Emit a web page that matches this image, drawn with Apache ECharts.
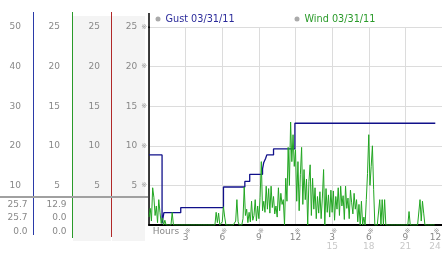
<!DOCTYPE html>
<html><head><meta charset="utf-8">
<script src="https://cdn.jsdelivr.net/npm/echarts@6/dist/echarts.min.js"></script>
<style>html,body{margin:0;padding:0;background:#fff}#c{width:442px;height:253px}</style>
</head><body><div id="c"></div>
<script>
// ---- data ----
const gustName = 'Gust 03/31/11';
const windName = 'Wind 03/31/11';
const gustTimes  = [0, 1.07, 1.22, 2.6, 6.1, 7.85, 8.25, 9.3, 9.4, 9.55, 9.65, 10.2, 11.95, 23.45];
const gustValues = [8.85, 0.2, 1.55, 2.2, 4.8, 5.5, 6.4, 7.1, 7.9, 8.4, 8.85, 9.6, 12.85, 12.85];
const windStepHours = 0.1;
const windValues = [
  1.0, 2.1, 0.5, 4.7, 3.5, 1.2, 2.4, 0.3, 3.2, 1.6,
  0.2, 0.9, 0.0, 0.6, 0.0, 0.0, 0.0, 0.0, 0.0, 1.6,
  0, 0, 0, 0, 0, 0, 0, 0, 0, 0,
  0, 0, 0, 0, 0, 0, 0, 0, 0, 0,
  0, 0, 0, 0, 0, 0, 0, 0, 0, 0,
  0, 0, 0, 0, 0, 1.6, 0.3, 1.5, 0, 0,
  0.4, 2.3, 1.0, 0, 0, 0, 0, 0, 0, 0,
  0, 0.5, 3.2, 0.4, 0, 0, 0, 0.8, 4.8, 1.2,
  2.0, 0.3, 1.6, 0.4, 3.0, 0.6, 1.2, 3.2, 0.5, 2.4,
  0.8, 3.5, 8.0, 1.8, 3.0, 1.6, 4.9, 2.0, 4.6, 1.5,
  4.9, 2.2, 3.6, 1.4, 2.4, 1.0, 4.7, 1.8, 4.0, 2.6,
  3.2, 0.0, 5.9, 3.0, 9.8, 5.0, 13.0, 8.0, 11.4, 7.4,
  9.5, 3.0, 8.0, 1.8, 6.4, 9.8, 2.6, 7.0, 3.2, 5.8,
  0.0, 5.5, 7.6, 1.2, 5.9, 2.0, 4.7, 0.8, 3.6, 1.5,
  4.2, 0.8, 3.4, 7.0, 0.0, 4.6, 1.6, 3.8, 1.0, 4.4,
  1.6, 4.3, 0.6, 3.6, 2.0, 4.7, 1.2, 4.9, 2.4, 3.7,
  0.7, 4.9, 2.1, 3.4, 0.8, 4.4, 2.8, 1.4, 4.0, 2.0,
  3.2, 0.4, 2.6, 0.0, 3.0, 0.0, 1.0, 0.0, 3.2, 6.5,
  11.4, 5.0, 7.4, 10.0, 4.5, 0.0, 0.0, 0.0, 0.0, 3.2,
  0.0, 3.2, 0.0, 3.2, 0, 0, 0, 0, 0, 0,
  0, 0, 0, 0, 0, 0, 0, 0, 0, 0,
  0, 0, 0, 1.7, 0, 0, 0, 0, 0, 0,
  0, 0, 3.2, 0.5, 3.0, 1.5, 0, 0, 0, 0,
  0, 0, 0, 0, 0
];
const hourLabels12 = ['Hours', '3', '6', '9', '12', '3', '6', '9', '12'];
const hourLabels24 = ['', '', '', '', '', '15', '18', '21', '24'];
const readoutCol1 = ['25.7', '25.7', '0.0'];
const readoutCol2 = ['12.9', '0.0', '0.0'];
const tickMark = '※';

// ---- styles / layout ----
const FONT = 'DejaVu Sans';
const labelGray = '#888';
const markGray = '#999';
const readoutY = [204.5, 218, 231.5];

const chart = echarts.init(document.getElementById('c'), null, {renderer: 'canvas'});

function colAxis(max, interval, offset, withMark) {
  return {
    type: 'value', min: 0, max: max, interval: interval, position: 'left', offset: offset,
    axisLine: {show: false}, axisTick: {show: false}, splitLine: {show: false},
    axisLabel: {
      margin: 0, color: labelGray, fontSize: 9, fontFamily: FONT,
      formatter: function (v) {
        if (v === 0) return '';
        return withMark ? '{n|' + v + '}{m|' + tickMark + '}' : String(v);
      },
      rich: {
        n: {fontSize: 9, fontFamily: FONT, color: labelGray},
        m: {fontSize: 7, fontFamily: FONT, color: markGray, padding: [0, 0, 0, 4]}
      }
    }
  };
}

const graphics = [
  {type: 'rect', z: -10, shape: {x: 73, y: 16, width: 38, height: 225}, style: {fill: '#f4f4f4'}},
  {type: 'rect', z: -10, shape: {x: 112, y: 16, width: 33, height: 225}, style: {fill: '#f4f4f4'}},
  {type: 'line', z: 1, shape: {x1: 33.5, y1: 12, x2: 33.5, y2: 235}, style: {stroke: '#2a3aa8', lineWidth: 1}},
  {type: 'line', z: 1, shape: {x1: 72.5, y1: 12, x2: 72.5, y2: 238}, style: {stroke: '#2a9a2a', lineWidth: 1}},
  {type: 'line', z: 1, shape: {x1: 111.5, y1: 12, x2: 111.5, y2: 237}, style: {stroke: '#b02828', lineWidth: 1}},
  {type: 'line', z: 2, shape: {x1: 0, y1: 197, x2: 148, y2: 197}, style: {stroke: '#a0a0a0', lineWidth: 2}},
  {type: 'line', z: 5, shape: {x1: 149, y1: 13, x2: 149, y2: 28}, style: {stroke: '#000', lineWidth: 1.5}}
];
readoutCol1.forEach(function (t, i) {
  graphics.push({type: 'text', z: 3, style: {text: t, x: 27.5, y: readoutY[i], align: 'right', verticalAlign: 'middle', fill: labelGray, font: '9px "' + FONT + '"'}});
});
readoutCol2.forEach(function (t, i) {
  graphics.push({type: 'text', z: 3, style: {text: t, x: 66.5, y: readoutY[i], align: 'right', verticalAlign: 'middle', fill: labelGray, font: '9px "' + FONT + '"'}});
});

function legendCfg(name, left, color) {
  return {
    left: left, top: 14, padding: 0, icon: 'circle', itemWidth: 5, itemHeight: 5,
    selectedMode: false,
    data: [{name: name, itemStyle: {color: '#aaaaaa', borderWidth: 0}}],
    textStyle: {color: color, fontSize: 9.7, fontFamily: FONT}
  };
}

const option = {
  animation: false,
  backgroundColor: '#fff',
  graphic: graphics,
  legend: [legendCfg(gustName, 155.5, '#2a2a9a'), legendCfg(windName, 294.5, '#2a9a2a')],
  grid: {left: 149, top: 27, width: 293, height: 198, containLabel: false, outerBoundsMode: 'none'},
  xAxis: {
    type: 'value', min: 0, max: 24, interval: 3, offset: 1,
    axisLine: {show: true, lineStyle: {color: '#000', width: 2}},
    axisTick: {show: false},
    splitLine: {show: true, lineStyle: {color: '#dcdcdc', width: 1}},
    axisLabel: {
      margin: 2, color: labelGray, fontFamily: FONT, fontSize: 9,
      formatter: function (v) {
        const i = Math.round(v / 3);
        if (i === 0) return '{h|' + hourLabels12[0] + '}';
        const s = (i === hourLabels12.length - 1) ? 'L' : '';
        let txt = '{m' + s + '|' + tickMark + '}\n{n' + s + '|' + hourLabels12[i] + '}';
        if (hourLabels24[i]) txt += '\n{g' + s + '|' + hourLabels24[i] + '}';
        return txt;
      },
      rich: {
        h: {fontSize: 9, fontFamily: FONT, color: labelGray, lineHeight: 8, padding: [0, 0, 0, 34]},
        m: {fontSize: 7, fontFamily: FONT, color: markGray, lineHeight: 6, padding: [0, 0, 0, 4]},
        n: {fontSize: 9, fontFamily: FONT, color: labelGray, lineHeight: 8},
        g: {fontSize: 9, fontFamily: FONT, color: '#c8c8c8', lineHeight: 9},
        mL: {fontSize: 7, fontFamily: FONT, color: markGray, lineHeight: 6, padding: [0, 11, 0, 0]},
        nL: {fontSize: 9, fontFamily: FONT, color: labelGray, lineHeight: 8, padding: [0, 13, 0, 0]},
        gL: {fontSize: 9, fontFamily: FONT, color: '#c8c8c8', lineHeight: 9, padding: [0, 14, 0, 0]}
      }
    }
  },
  yAxis: [
    {
      type: 'value', min: 0, max: 25, interval: 5, position: 'left',
      axisLine: {show: true, lineStyle: {color: '#000', width: 1.5}},
      axisTick: {show: false}, axisLabel: {show: false},
      splitLine: {show: true, lineStyle: {color: '#dcdcdc', width: 1}}
    },
    colAxis(50, 10, 128, false),
    colAxis(25, 5, 89, false),
    colAxis(25, 5, 49, false),
    colAxis(25, 5, 2, true)
  ],
  series: [
    {
      name: gustName, type: 'line', step: 'end', symbol: 'none', z: 3,
      data: gustTimes.map(function (t, i) { return [t, gustValues[i]]; }),
      itemStyle: {color: '#10108a'},
      lineStyle: {color: '#10108a', width: 1.3}
    },
    {
      name: windName, type: 'line', symbol: 'none', z: 4,
      data: windValues.map(function (v, i) { return [i * windStepHours, v]; }),
      itemStyle: {color: '#22a622'},
      lineStyle: {color: '#22a622', width: 1}
    }
  ]
};
chart.setOption(option);
</script>
</body></html>
